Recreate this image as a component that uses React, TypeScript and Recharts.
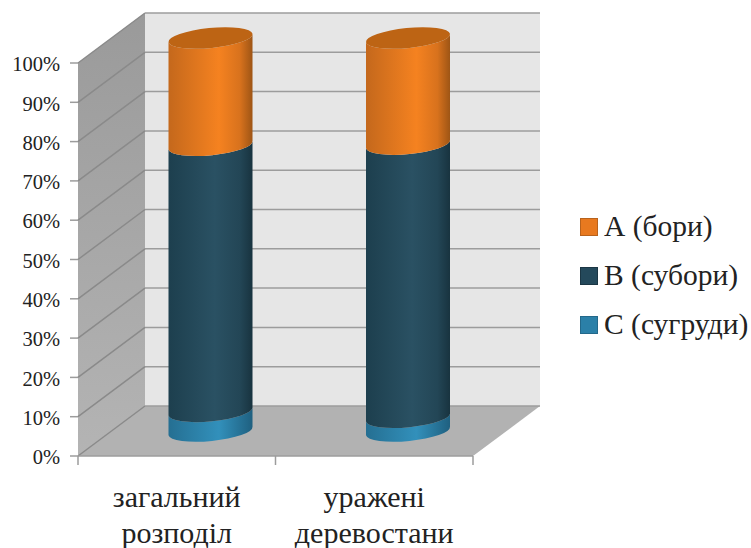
import React from 'react';
import { BarChart, Bar, XAxis, YAxis, CartesianGrid, Legend, Customized } from 'recharts';

const categories = ['загальний розподіл', 'уражені деревостани'];
const seriesC = [5, 3.5];
const seriesB = [67.7, 69.5];
const seriesA = [27.3, 27];
const yTicks = [0, 10, 20, 30, 40, 50, 60, 70, 80, 90, 100];

const legendItems = [
  { name: 'А (бори)', fill: '#e8791f', border: '#b8621c' },
  { name: 'В (субори)', fill: '#24495b', border: '#1b3644' },
  { name: 'С (сугруди)', fill: '#2b80a8', border: '#23688a' },
];

const data = categories.map((name, i) => ({
  name,
  c: seriesC[i],
  b: seriesB[i],
  a: seriesA[i],
}));

const WIDTH = 751;
const HEIGHT = 548;
const LEFT = 78;
const RIGHT = 473;
const TOP = 63;
const BOTTOM = 456;
// depth of the fake 3D box
const DX = 67;
const DY = -50;
const FONT = '"Liberation Serif", serif';
const GRID = '#9c9c9c';

// Left wall, back wall, floor and the category separators, sitting behind the chart svg
const Walls = () => (
  <svg width={WIDTH} height={HEIGHT} style={{ position: 'absolute', left: 0, top: 0 }}>
    <defs>
      <linearGradient id="leftWall" x1="0" y1="0" x2="0" y2="1">
        <stop offset="0" stopColor="#9a9a9a" />
        <stop offset="1" stopColor="#b4b4b4" />
      </linearGradient>
    </defs>
    <polygon points={`${LEFT + DX},${TOP + DY} ${RIGHT + DX},${TOP + DY} ${RIGHT + DX},${BOTTOM + DY} ${LEFT + DX},${BOTTOM + DY}`} fill="#e6e6e6" />
    <polygon points={`${LEFT},${TOP} ${LEFT + DX},${TOP + DY} ${LEFT + DX},${BOTTOM + DY} ${LEFT},${BOTTOM}`} fill="url(#leftWall)" />
    <polygon points={`${LEFT},${BOTTOM} ${LEFT + DX},${BOTTOM + DY} ${RIGHT + DX},${BOTTOM + DY} ${RIGHT},${BOTTOM}`} fill="#b2b2b2" />
    {[LEFT, (LEFT + RIGHT) / 2, RIGHT].map(x => (
      <line key={x} x1={x} x2={x} y1={BOTTOM} y2={BOTTOM + 9} stroke={GRID} strokeWidth={1.5} />
    ))}
  </svg>
);

const Gradients = () => (
  <defs>
    <linearGradient id="cylA" x1="0" y1="0" x2="1" y2="0">
      <stop offset="0" stopColor="#c4681c" />
      <stop offset="0.6" stopColor="#f58220" />
      <stop offset="0.85" stopColor="#d8721d" />
      <stop offset="1" stopColor="#9e5515" />
    </linearGradient>
    <linearGradient id="cylB" x1="0" y1="0" x2="1" y2="0">
      <stop offset="0" stopColor="#1d3f4e" />
      <stop offset="0.55" stopColor="#2a5163" />
      <stop offset="0.85" stopColor="#234656" />
      <stop offset="1" stopColor="#18333f" />
    </linearGradient>
    <linearGradient id="cylC" x1="0" y1="0" x2="1" y2="0">
      <stop offset="0" stopColor="#256f92" />
      <stop offset="0.6" stopColor="#3290bb" />
      <stop offset="1" stopColor="#1f6080" />
    </linearGradient>
  </defs>
);

// Grid line running across the left wall and then along the back wall
const gridLine = (p: any) => (
  <g key={p.key ?? p.y1} fill="none" strokeWidth={1.5}>
    <path d={`M${p.x1},${p.y1} L${p.x1 + DX},${p.y1 + DY}`} stroke="#8a8a8a" />
    <path d={`M${p.x1 + DX},${p.y1 + DY} L${p.x2 + DX},${p.y1 + DY}`} stroke={GRID} />
  </g>
);

// One slice of a cylinder; the bar rectangle is pushed back to the middle of the box depth
const cylinder = (fillId: string, capFill?: string) => (props: any) => {
  const { x, y, width, height } = props;
  const rx = width / 2;
  const ry = 10;
  const tilt = -5.5;
  const lift = rx * 0.1;
  const left = x + DX / 2;
  const right = left + width;
  const top = y + DY / 2;
  const bottom = top + height;
  const arc = `${rx} ${ry} ${tilt}`;
  return (
    <g>
      <path
        d={`M${left},${top + lift} A${arc} 0 0 ${right},${top - lift} L${right},${bottom - lift} A${arc} 0 1 ${left},${bottom + lift} Z`}
        fill={`url(#${fillId})`}
      />
      {capFill && (
        <path
          d={`M${left},${top + lift} A${arc} 0 0 ${right},${top - lift} A${arc} 0 0 ${left},${top + lift} Z`}
          fill={capFill}
        />
      )}
    </g>
  );
};

const CategoryTick = ({ x, y, payload }: any) => (
  <text x={x} y={y} textAnchor="middle" fontFamily={FONT} fontSize={30} fill="#222">
    {String(payload.value).split(' ').map((word: string, i: number) => (
      <tspan key={word} x={x} y={507 + i * 36}>{word}</tspan>
    ))}
  </text>
);

const LegendContent = () => (
  <div style={{ position: 'relative', height: 170, fontFamily: FONT, fontSize: 29.5, color: '#222' }}>
    {legendItems.map((item, i) => (
      <div key={item.name} style={{ position: 'absolute', left: 107, top: i * 49, height: 18, whiteSpace: 'nowrap' }}>
        <span style={{ position: 'absolute', left: 0, top: 0, width: 16, height: 16, background: item.fill, border: `1px solid ${item.border}` }} />
        <span style={{ position: 'absolute', left: 24, top: -8, lineHeight: '32px' }}>{item.name}</span>
      </div>
    ))}
  </div>
);

export default function App() {
  return (
    <div style={{ position: 'absolute', left: 0, top: 0, width: WIDTH, height: HEIGHT, background: '#fff' }}>
      <Walls />
      <BarChart
        width={WIDTH}
        height={HEIGHT}
        data={data}
        margin={{ top: TOP, right: 0, bottom: 0, left: 0 }}
        barCategoryGap={0}
      >
        <Customized component={<Gradients />} />
        <CartesianGrid vertical={false} horizontal={gridLine} />
        <XAxis
          dataKey="name"
          height={HEIGHT - BOTTOM}
          axisLine={{ stroke: GRID, strokeWidth: 1.5 }}
          tickLine={false}
          interval={0}
          tick={<CategoryTick />}
        />
        <YAxis
          width={LEFT}
          domain={[0, 100]}
          ticks={yTicks}
          interval={0}
          axisLine={false}
          tickSize={8}
          tickMargin={10}
          tickLine={{ stroke: GRID, strokeWidth: 1.5 }}
          tickFormatter={(v: number) => `${v}%`}
          tick={{ fontFamily: FONT, fontSize: 20.5, fill: '#222', dy: 1 }}
        />
        <Legend
          layout="vertical"
          align="right"
          verticalAlign="top"
          width={WIDTH - RIGHT}
          wrapperStyle={{ top: 218 }}
          content={<LegendContent />}
        />
        <Bar dataKey="c" stackId="s" barSize={84} isAnimationActive={false} shape={cylinder('cylC')} />
        <Bar dataKey="b" stackId="s" barSize={84} isAnimationActive={false} shape={cylinder('cylB')} />
        <Bar dataKey="a" stackId="s" barSize={84} isAnimationActive={false} shape={cylinder('cylA', '#bd6414')} />
      </BarChart>
    </div>
  );
}
